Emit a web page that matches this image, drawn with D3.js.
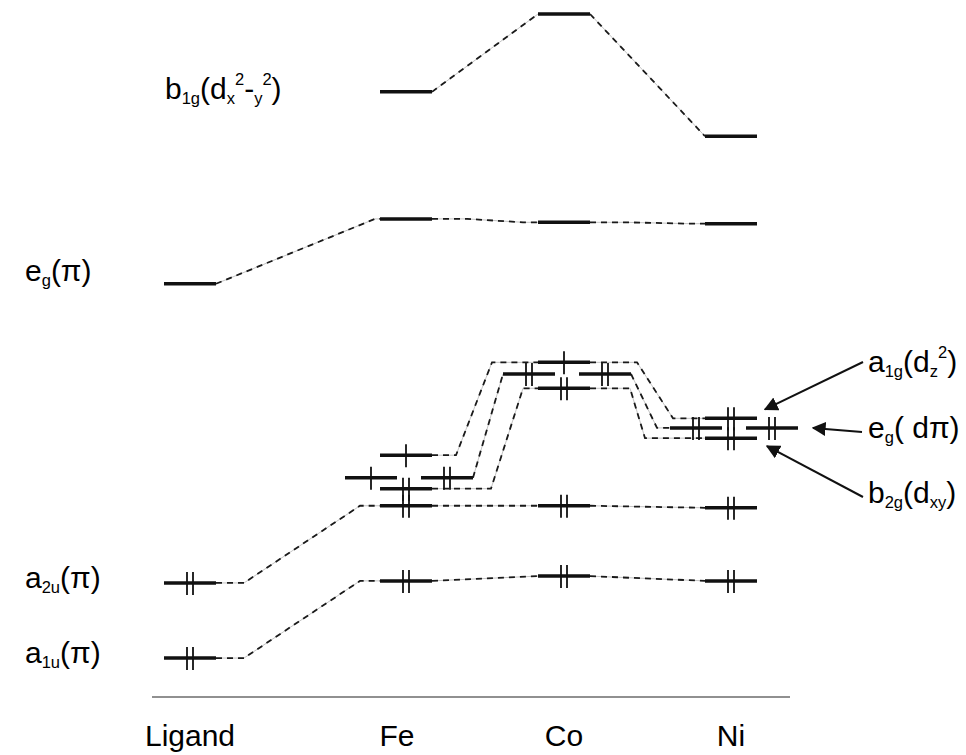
<!DOCTYPE html>
<html>
<head>
<meta charset="utf-8">
<script src="https://cdn.jsdelivr.net/npm/d3@7"></script>
<style>
  body { margin: 0; background: #fff; }
  text { font-family: "Liberation Sans", Arial, sans-serif; fill: #000; }
</style>
</head>
<body>
<div id="chart"></div>
<script>
// columns of the diagram
const columns = ['Ligand', 'Fe', 'Co', 'Ni'];

// levels per column: id, energy (arbitrary units), electrons, slot (-1 left, 0 centre, 1 right)
const ligandLevels = [
  { id: 'L.a1u', energy: 5.7, electrons: 2, slot: 0 },
  { id: 'L.a2u', energy: 16.7, electrons: 2, slot: 0 },
  { id: 'L.eg', energy: 60.5, electrons: 0, slot: 0 }
];
const feLevels = [
  { id: 'Fe.p1', energy: 17.0, electrons: 2, slot: 0 },
  { id: 'Fe.p2', energy: 28.0, electrons: 2, slot: 0 },
  { id: 'Fe.b2g', energy: 30.5, electrons: 2, slot: 0 },
  { id: 'Fe.egL', energy: 32.1, electrons: 1, slot: -1 },
  { id: 'Fe.egR', energy: 32.1, electrons: 2, slot: 1 },
  { id: 'Fe.a1g', energy: 35.4, electrons: 1, slot: 0 },
  { id: 'Fe.egpi', energy: 70.0, electrons: 0, slot: 0 },
  { id: 'Fe.b1g', energy: 88.6, electrons: 0, slot: 0 }
];
const coLevels = [
  { id: 'Co.p1', energy: 17.7, electrons: 2, slot: 0 },
  { id: 'Co.p2', energy: 28.0, electrons: 2, slot: 0 },
  { id: 'Co.b2g', energy: 45.2, electrons: 2, slot: 0 },
  { id: 'Co.egL', energy: 47.3, electrons: 2, slot: -1 },
  { id: 'Co.egR', energy: 47.3, electrons: 2, slot: 1 },
  { id: 'Co.a1g', energy: 49.0, electrons: 1, slot: 0 },
  { id: 'Co.egpi', energy: 69.5, electrons: 0, slot: 0 },
  { id: 'Co.b1g', energy: 100, electrons: 0, slot: 0 }
];
const niLevels = [
  { id: 'Ni.p1', energy: 17.0, electrons: 2, slot: 0 },
  { id: 'Ni.p2', energy: 27.7, electrons: 2, slot: 0 },
  { id: 'Ni.b2g', energy: 37.9, electrons: 2, slot: 0 },
  { id: 'Ni.egL', energy: 39.4, electrons: 2, slot: -1 },
  { id: 'Ni.egR', energy: 39.4, electrons: 2, slot: 1 },
  { id: 'Ni.a1g', energy: 40.8, electrons: 2, slot: 0 },
  { id: 'Ni.egpi', energy: 69.3, electrons: 0, slot: 0 },
  { id: 'Ni.b1g', energy: 82.1, electrons: 0, slot: 0 }
];

// correlation lines: [from, to]
const connectors = [
  ['L.a1u', 'Fe.p1'], ['L.a2u', 'Fe.p2'], ['L.eg', 'Fe.egpi'],
  ['Fe.b1g', 'Co.b1g'], ['Co.b1g', 'Ni.b1g'],
  ['Fe.egpi', 'Co.egpi'], ['Co.egpi', 'Ni.egpi'],
  ['Fe.p2', 'Co.p2'], ['Co.p2', 'Ni.p2'],
  ['Fe.p1', 'Co.p1'], ['Co.p1', 'Ni.p1'],
  ['Fe.a1g', 'Co.a1g'], ['Co.a1g', 'Ni.a1g'],
  ['Fe.egR', 'Co.egL'], ['Co.egR', 'Ni.egL'],
  ['Fe.b2g', 'Co.b2g'], ['Co.b2g', 'Ni.b2g']
];
// horizontal stub lengths (px) at each end of the connectors above
const connectorStubs = [
  [28, 20], [28, 20], [0, 5],
  [0, 0], [0, 0],
  [35, 15], [35, 15],
  [0, 0], [0, 0],
  [0, 0], [0, 0],
  [24, 46], [47, 32],
  [0, 0], [0, 13],
  [59, 15], [40, 60]
];

// text labels
const leftLabels = [
  { level: 'L.a1u', dy: 5, parts: [['a'], ['1u', 'sub'], ['(π)']] },
  { level: 'L.a2u', dy: 5, parts: [['a'], ['2u', 'sub'], ['(π)']] },
  { level: 'L.eg', dy: -3, parts: [['e'], ['g', 'sub'], ['(π)']] }
];
const b1gLabel = [['b'], ['1g', 'sub'], ['(d'], ['x', 'sub'], ['2', 'sup'], ['-'], ['y', 'sub'], ['2', 'sup'], [')']];
const rightLabels = [
  { level: 'Ni.a1g', parts: [['a'], ['1g', 'sub'], ['(d'], ['z', 'sub'], ['2', 'sup'], [')']] },
  { level: 'Ni.egR', parts: [['e'], ['g', 'sub'], ['( dπ)']] },
  { level: 'Ni.b2g', parts: [['b'], ['2g', 'sub'], ['(d'], ['xy', 'sub'], [')']] }
];

const width = 966, height = 755;
const levelWidth = 52;

const allLevels = [ligandLevels, feLevels, coLevels, niLevels]
  .flatMap((lv, i) => lv.map(d => Object.assign({ column: columns[i] }, d)));
const byId = new Map(allLevels.map(d => [d.id, d]));

const x = d3.scaleOrdinal().domain(columns).range([190, 406, 564, 731]);
const slotShift = { '-1': -35, '0': 0, '1': 41 };
const y = d3.scaleLinear().domain([0, 100]).range([697, 14]);

const cx = d => x(d.column) + slotShift[d.slot];
const x0 = d => cx(d) - levelWidth / 2;
const x1 = d => cx(d) + levelWidth / 2;

const svg = d3.select('#chart').append('svg')
  .attr('width', width).attr('height', height);

// connectors: thin grey line under black dashes
const conn = svg.append('g');
connectors.forEach((c, i) => {
  const a = byId.get(c[0]), b = byId.get(c[1]);
  const s = connectorStubs[i];
  const pts = [[x1(a), y(a.energy)], [x1(a) + s[0], y(a.energy)],
               [x0(b) - s[1], y(b.energy)], [x0(b), y(b.energy)]];
  const line = d3.line();
  conn.append('path').attr('d', line(pts))
    .attr('fill', 'none').attr('stroke', '#c4c4c4').attr('stroke-width', 1);
  conn.append('path').attr('d', line(pts))
    .attr('fill', 'none').attr('stroke', '#1a1a1a').attr('stroke-width', 1.8)
    .attr('stroke-dasharray', '6,5');
});

// energy levels
svg.append('g').selectAll('line')
  .data(allLevels).join('line')
  .attr('x1', x0).attr('x2', x1)
  .attr('y1', d => y(d.energy)).attr('y2', d => y(d.energy))
  .attr('stroke', '#111').attr('stroke-width', 3.5);

// electrons
const elec = allLevels.flatMap(d => d3.range(d.electrons).map(k =>
  ({ x: cx(d) + (d.electrons === 2 ? (k === 0 ? -3 : 3) : 0), y: y(d.energy) })));
svg.append('g').selectAll('line')
  .data(elec).join('line')
  .attr('x1', d => d.x).attr('x2', d => d.x)
  .attr('y1', d => d.y - 11).attr('y2', d => d.y + 12)
  .attr('stroke', '#111').attr('stroke-width', 1.8);

// rich text helper
function richText(g, parts, size) {
  const t = g.append('text').attr('font-size', size);
  parts.forEach(p => {
    const ts = t.append('tspan').text(p[0]);
    if (p[1] === 'sub') ts.attr('font-size', size * 0.55).attr('baseline-shift', '-30%');
    if (p[1] === 'sup') ts.attr('font-size', size * 0.55).attr('baseline-shift', '80%');
  });
  return t;
}

const fs = 30;
leftLabels.forEach(l => {
  const g = svg.append('g').attr('transform', `translate(25,${y(byId.get(l.level).energy) + l.dy})`);
  richText(g, l.parts, fs);
});
richText(svg.append('g').attr('transform', `translate(165,${y(byId.get('Fe.b1g').energy) + 7})`), b1gLabel, fs);

const rightY = [372, 438, 503];
rightLabels.forEach((l, i) => {
  const g = svg.append('g').attr('transform', `translate(868,${rightY[i]})`);
  richText(g, l.parts, fs);
});

// arrows pointing at the Ni d levels
svg.append('defs').append('marker')
  .attr('id', 'ah').attr('viewBox', '0 0 10 10').attr('refX', 9).attr('refY', 5)
  .attr('markerWidth', 7).attr('markerHeight', 7).attr('orient', 'auto')
  .append('path').attr('d', 'M0,0L10,5L0,10Z').attr('fill', '#111');
const arrowTargets = [
  { level: 'Ni.a1g', from: [863, 362], dx: 8, dy: -9 },
  { level: 'Ni.egR', from: [862, 432], dx: 15, dy: 0 },
  { level: 'Ni.b2g', from: [863, 497], dx: 10, dy: 8 }
];
arrowTargets.forEach(a => {
  const lv = byId.get(a.level);
  svg.append('line')
    .attr('x1', a.from[0]).attr('y1', a.from[1])
    .attr('x2', x1(lv) + a.dx).attr('y2', y(lv.energy) + a.dy)
    .attr('stroke', '#111').attr('stroke-width', 2)
    .attr('marker-end', 'url(#ah)');
});

// baseline and column labels
svg.append('line').attr('x1', 152).attr('x2', 790).attr('y1', 697).attr('y2', 697)
  .attr('stroke', '#222').attr('stroke-width', 1.2);
svg.append('g').selectAll('text')
  .data(columns).join('text')
  .attr('x', d => x(d) - (d === 'Fe' ? 9 : 0)).attr('y', 746)
  .attr('text-anchor', 'middle').attr('font-size', 30)
  .text(d => d);
</script>
</body>
</html>
